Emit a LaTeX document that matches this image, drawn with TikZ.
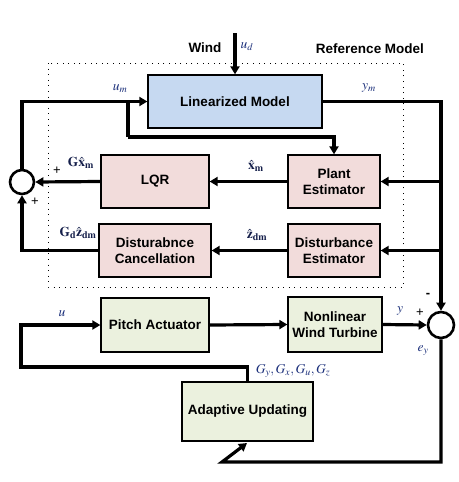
\documentclass[tikz,border=0pt]{standalone}
\usepackage{mathptmx}
\usepackage{fontspec}
\setmainfont{Liberation Serif}
\setsansfont{Liberation Sans}
\usetikzlibrary{arrows.meta,positioning}
\definecolor{rmblue}{HTML}{C6D9F1}
\definecolor{estpink}{HTML}{F2DCDB}
\definecolor{plantgreen}{HTML}{EBF1DE}
\definecolor{sigink}{HTML}{1B2F7A}
\definecolor{hatink}{HTML}{141E4A}
\tikzset{
  every picture/.style={font=\sffamily\fontsize{13}{15}\selectfont},
  block/.style={draw=black,line width=1.3pt,align=center,inner sep=2pt,
    font=\sffamily\bfseries\fontsize{13.5}{15.5}\selectfont},
  refblock/.style={block,fill=rmblue},
  estblock/.style={block,fill=estpink},
  plantblock/.style={block,fill=plantgreen},
  sumpt/.style={circle,draw=black,line width=2.6pt,fill=white,inner sep=0pt},
  wire/.style={draw=black,line width=3.2pt},
  signal/.style={wire,-{Triangle[length=8pt,width=9pt]}},
  siglabel/.style={text=sigink,inner sep=1pt,font=\fontsize{13.5}{15}\selectfont},
  estlabel/.style={text=hatink,inner sep=1pt,font=\fontsize{13.5}{15}\selectfont},
  sign/.style={inner sep=1pt,font=\sffamily\fontsize{13}{14}\selectfont},
  heading/.style={font=\sffamily\bfseries\fontsize{13.5}{15}\selectfont},
}
\begin{document}
\begin{tikzpicture}[x=1pt,y=-1pt]
  \path[use as bounding box] (0,0) rectangle (458,482);
  % reference model frame
  \draw[line width=1pt,dash pattern=on 1pt off 4.6pt] (48,63) rectangle (403,287);
  \node[heading] (windlbl) at (205,48) {Wind};
  \node[heading] (reflbl) at (370,49) {Reference Model};
  % blocks
  \node[refblock,minimum width=174pt,minimum height=53pt] (lin) at (235,101.5) {Linearized Model};
  \node[estblock,minimum width=92pt,minimum height=53pt] (pest) at (334,181.5) {Plant\\Estimator};
  \node[estblock,minimum width=92pt,minimum height=53pt] (dest) at (334,250.5) {Disturbance\\Estimator};
  \node[estblock,minimum width=108pt,minimum height=53pt] (lqr) at (155,181.5) {LQR};
  \node[estblock,minimum width=112pt,minimum height=53pt] (dcan) at (155,250.5) {Disturabnce\\Cancellation};
  \node[plantblock,minimum width=108pt,minimum height=54pt] (pitch) at (155,325) {Pitch Actuator};
  \node[plantblock,minimum width=94pt,minimum height=55pt] (nwt) at (335,324.5) {Nonlinear\\Wind Turbine};
  \node[plantblock,minimum width=131pt,minimum height=59pt] (adapt) at (247.5,411.5) {Adaptive Updating};
  \node[sumpt,minimum size=24pt] (sumc) at (22,182) {};
  \node[sumpt,minimum size=26pt] (sume) at (441,325) {};
  \coordinate (windtop) at (235,33);
  \coordinate (brk) at (128,101.5);
  \coordinate (brkdown) at (128,137);
  \coordinate (ucorner) at (21,367);
  \coordinate (ecorner) at (222,462);
  \coordinate (etip) at (247,443);
  % connectors
  \draw[signal] (windtop) -- (lin.north);
  \draw[signal] (sumc.north) |- (lin.west);
  \draw[wire] (brk) -- (brkdown);
  \draw[signal] (brkdown) -| (pest.north);
  \draw[signal] (lin.east) -| (sume.north);
  \draw[signal] (pest.east -| sume.north) -- (pest.east);
  \draw[signal] (dest.east -| sume.north) -- (dest.east);
  \draw[signal] (pest.west) -- (lqr.east);
  \draw[signal] (dest.west) -- (dcan.east);
  \draw[signal] (lqr.west) -- (sumc.east);
  \draw[signal] (dcan.west) -| (sumc.south);
  \draw[signal] (pitch.east) -- (nwt.west);
  \draw[signal] (nwt.east) -- (sume.west);
  \draw[signal] (adapt.north) |- (ucorner) |- (pitch.west);
  \draw[signal] (sume.south) |- (ecorner) -- (etip);
  % signal labels
  \node[siglabel] (udlbl) at (247,47) {$u_d$};
  \node[siglabel] (umlbl) at (120,89) {$u_m$};
  \node[siglabel] (ymlbl) at (369,88) {$y_m$};
  \node[estlabel] (xhlbl) at (256,166) {$\hat{\mathbf{x}}_{\mathbf{m}}$};
  \node[estlabel] (zhlbl) at (257,235) {$\hat{\mathbf{z}}_{\mathbf{dm}}$};
  \node[estlabel] (gxlbl) at (81,163) {$\mathbf{G}\hat{\mathbf{x}}_{\mathbf{m}}$};
  \node[estlabel] (gzlbl) at (78,233) {$\mathbf{G}_{\mathbf{d}}\hat{\mathbf{z}}_{\mathbf{dm}}$};
  \node[siglabel] (ulbl) at (62,314) {$u$};
  \node[siglabel] (ylbl) at (400,311) {$y$};
  \node[siglabel] (eylbl) at (423,351) {$e_y$};
  \node[siglabel] (gainlbl) at (293,371) {$G_y,G_x,G_u,G_z$};
  \node[sign] (plusx) at (57,171) {+};
  \node[sign] (plusz) at (35,202) {+};
  \node[sign] (plusy) at (420,313) {+};
  \node[sign] (minusym) at (428,295) {\textbf{-}};
\end{tikzpicture}
\end{document}
